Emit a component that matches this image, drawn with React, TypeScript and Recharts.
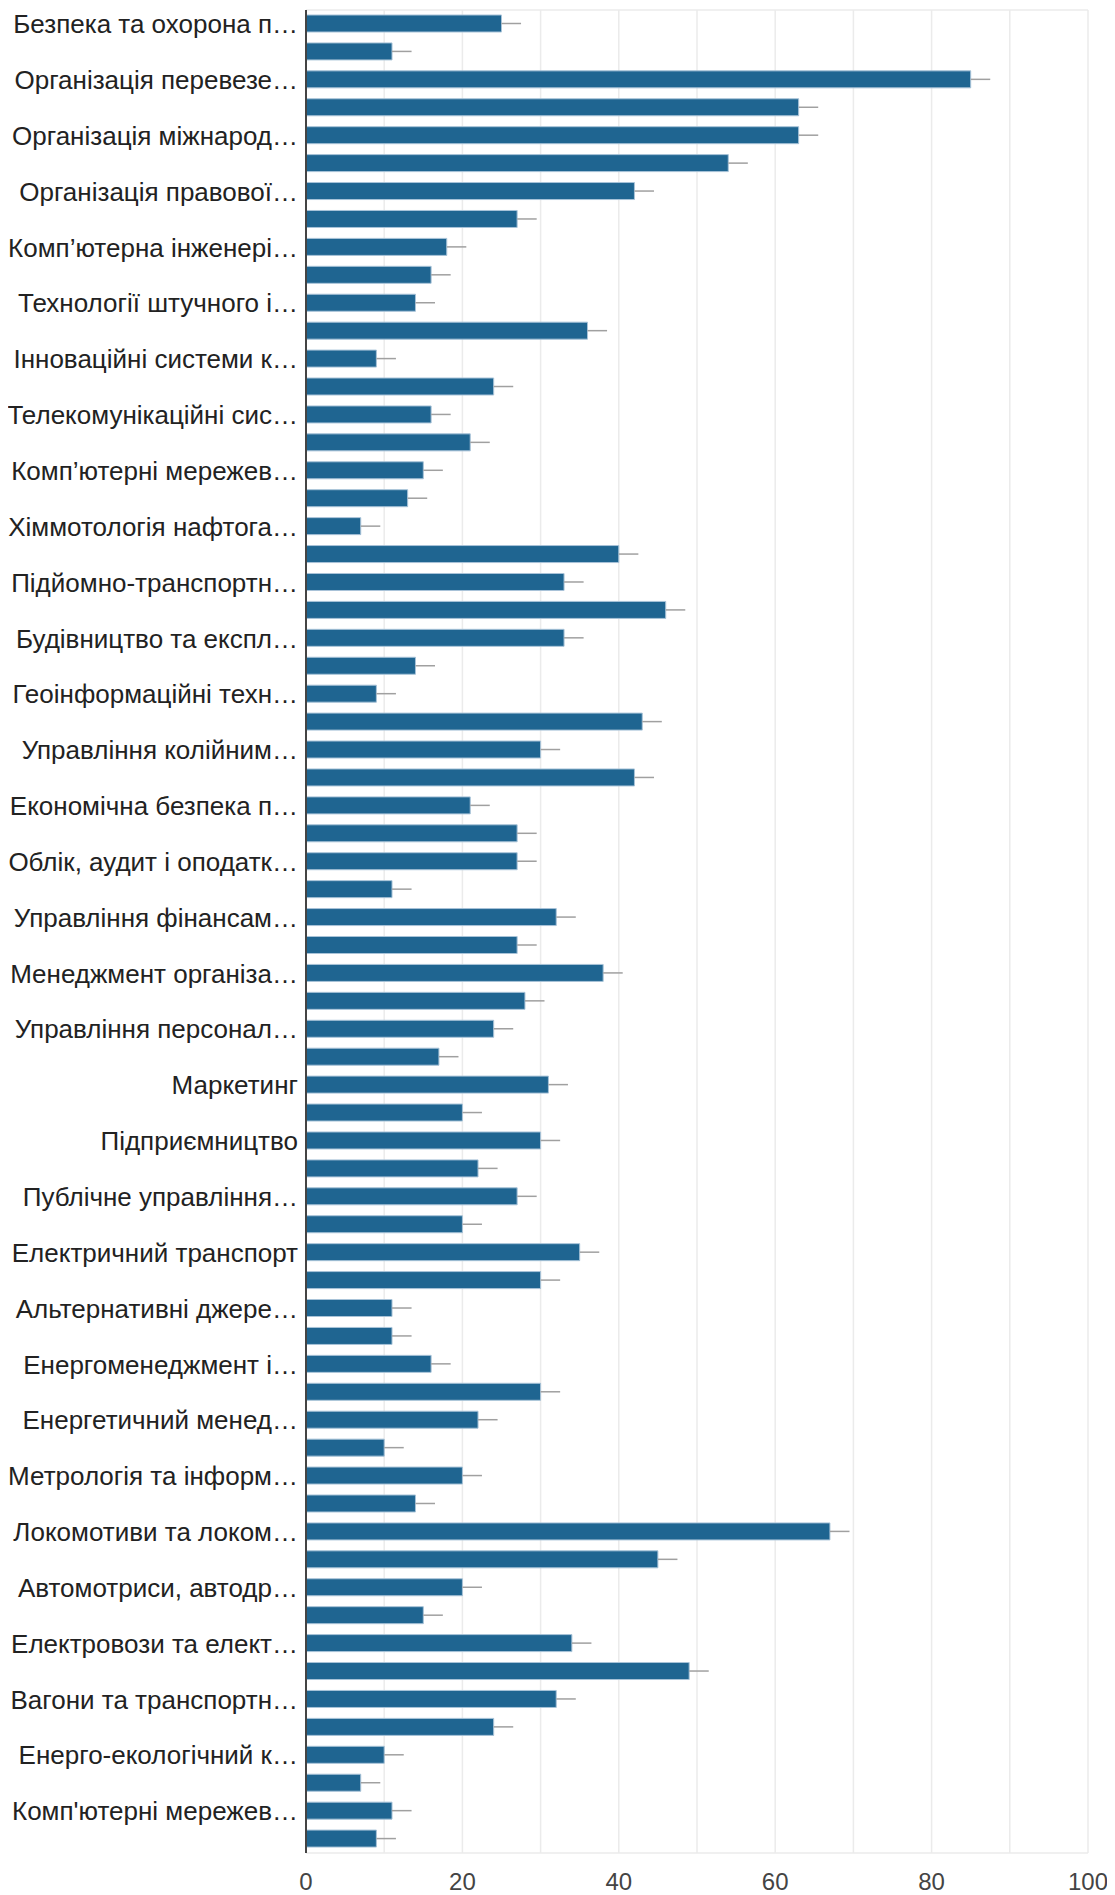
import React from "react";
import { BarChart, Bar, XAxis, YAxis, CartesianGrid, ErrorBar } from "recharts";

const shownLabels = [
  "Безпека та охорона п…",
  "Організація перевезе…",
  "Організація міжнарод…",
  "Організація правової…",
  "Комп’ютерна інженері…",
  "Технології штучного і…",
  "Інноваційні системи к…",
  "Телекомунікаційні сис…",
  "Комп’ютерні мережев…",
  "Хіммотологія нафтога…",
  "Підйомно-транспортн…",
  "Будівництво та експл…",
  "Геоінформаційні техн…",
  "Управління колійним…",
  "Економічна безпека п…",
  "Облік, аудит і оподатк…",
  "Управління фінансам…",
  "Менеджмент організа…",
  "Управління персонал…",
  "Маркетинг",
  "Підприємництво",
  "Публічне управління…",
  "Електричний транспорт",
  "Альтернативні джере…",
  "Енергоменеджмент і…",
  "Енергетичний менед…",
  "Метрологія та інформ…",
  "Локомотиви та локом…",
  "Автомотриси, автодр…",
  "Електровози та елект…",
  "Вагони та транспортн…",
  "Енерго-екологічний к…",
  "Комп'ютерні мережев…",
];

// every second category has its tick label hidden in the reference
const categories = shownLabels.flatMap((l) => [l, l + " "]);

const values = [
  25, 11, 85, 63, 63, 54, 42, 27, 18, 16,
  14, 36, 9, 24, 16, 21, 15, 13, 7, 40,
  33, 46, 33, 14, 9, 43, 30, 42, 21, 27,
  27, 11, 32, 27, 38, 28, 24, 17, 31, 20,
  30, 22, 27, 20, 35, 30, 11, 11, 16, 30,
  22, 10, 20, 14, 67, 45, 20, 15, 34, 49,
  32, 24, 10, 7, 11, 9,
];

const errorUpper = 2.5;

const xTicks = [0, 10, 20, 30, 40, 50, 60, 70, 80, 90, 100];
const xTickLabels = ["0", "", "20", "", "40", "", "60", "", "80", "", "100"];

const data = categories.map((name, i) => ({
  name,
  value: values[i],
  err: [0, errorUpper],
}));

const FONT = "'Liberation Sans', Arial, sans-serif";

const YTick = (props: any) => {
  const { x, y, payload } = props;
  return (
    <text
      x={x}
      y={y}
      dy="0.355em"
      textAnchor="end"
      fontSize={26}
      fontFamily={FONT}
      fill="#222"
    >
      {payload.value}
    </text>
  );
};

export default function App() {
  return (
    <div style={{ width: 1100, height: 1887, background: "#fff" }}>
      <BarChart
        width={1100}
        height={1887}
        data={data}
        layout="vertical"
        margin={{ top: 2, right: 20, bottom: 0, left: 0 }}
      >
        <CartesianGrid
          stroke="#ebebeb"
          strokeWidth={1.5}
          vertical={true}
          horizontal={true}
          horizontalCoordinatesGenerator={(p: any) => [
            p.offset.top,
            p.offset.top + p.offset.height,
          ]}
        />
        <XAxis
          type="number"
          domain={[0, 100]}
          ticks={xTicks}
          tickFormatter={(v: number) => xTickLabels[xTicks.indexOf(v)] ?? ""}
          axisLine={false}
          tickLine={false}
          tickSize={6}
          tickMargin={14}
          height={42}
          tick={{ fontSize: 24, fontFamily: FONT, fill: "#444" }}
        />
        <YAxis
          type="category"
          dataKey="name"
          width={298}
          interval={1}
          axisLine={{ stroke: "#444", strokeWidth: 2 }}
          tickLine={false}
          tickSize={0}
          tickMargin={8}
          tick={<YTick />}
        />
        <Bar
          dataKey="value"
          fill="#1f6591"
          stroke="#a8c3d8"
          strokeWidth={1}
          barSize={17}
          isAnimationActive={false}
        >
          <ErrorBar
            dataKey="err"
            direction="x"
            width={0}
            stroke="#a0a0a0"
            strokeWidth={1.5}
            isAnimationActive={false}
          />
        </Bar>
      </BarChart>
    </div>
  );
}
